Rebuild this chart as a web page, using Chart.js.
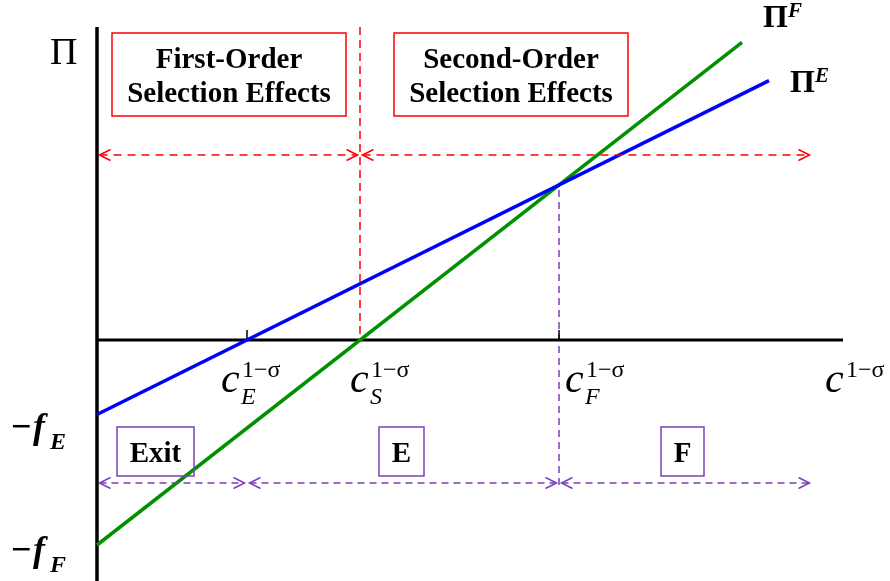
<!DOCTYPE html>
<html>
<head>
<meta charset="utf-8">
<script src="https://cdn.jsdelivr.net/npm/chart.js@4.4.0/dist/chart.umd.min.js"></script>
<style>
  html, body { margin: 0; padding: 0; background: #fff; }
  #wrap { width: 890px; height: 581px; }
</style>
</head>
<body>
<div id="wrap"><canvas id="chart"></canvas></div>
<script>
// cutoffs on the c^(1-sigma) axis
const cutoffNames = ["E", "S", "F"];
const cutoffValues = [1.5, 2.63, 4.62];

// profit lines, x = c^(1-sigma), y = profit
const profitE = [{ x: 0, y: -0.745 }, { x: 6.72, y: 2.594 }];
const profitF = [{ x: 0, y: -2.05 }, { x: 6.45, y: 2.976 }];

// axis extents
const axisXRange = [0, 7.46];
const axisYRange = [-2.41, 3.13];

// arrow rows: region spans for each row
const selectionSpans = [[0, 2.63], [2.63, 7.15]];
const selectionY = 1.85;
const statusSpans = [[0, 1.5], [1.5, 4.62], [4.62, 7.15]];
const statusY = -1.43;
const statusLabels = ["Exit", "E", "F"];

const BLUE = "#0000ff";
const GREEN = "rgb(0,145,0)";
const RED = "#ff0000";
const PURPLE = "#7b3fb5";
const SERIF = '"Liberation Serif", "Times New Roman", serif';

const cE = cutoffValues[0], cS = cutoffValues[1], cF = cutoffValues[2];
const crossY = 1.55;

function seg(data, color, width, dash, order) {
    return {
        data,
        showLine: true,
        borderColor: color,
        borderWidth: width,
        borderDash: dash || [],
        pointRadius: 0,
        fill: false,
        clip: false,
        order
    };
}

function arrow(ctx, x1, x2, y, color, dash) {
    ctx.save();
    ctx.strokeStyle = color;
    ctx.lineWidth = 1.5;
    ctx.setLineDash(dash);
    ctx.beginPath();
    ctx.moveTo(x1, y);
    ctx.lineTo(x2, y);
    ctx.stroke();
    ctx.setLineDash([]);
    ctx.beginPath();
    ctx.moveTo(x1 + 11, y - 5.5);
    ctx.lineTo(x1, y);
    ctx.lineTo(x1 + 11, y + 5.5);
    ctx.moveTo(x2 - 11, y - 5.5);
    ctx.lineTo(x2, y);
    ctx.lineTo(x2 - 11, y + 5.5);
    ctx.stroke();
    ctx.restore();
}

function text(ctx, str, x, y, font, align) {
    ctx.font = font;
    ctx.textAlign = align || "left";
    ctx.fillText(str, x, y);
}

const annotations = {
    id: "annotations",
    afterDatasetsDraw(chart) {
        const ctx = chart.ctx;
        const X = v => chart.scales.x.getPixelForValue(v);
        const Y = v => chart.scales.y.getPixelForValue(v);
        ctx.save();
        ctx.textBaseline = "alphabetic";

        // arrows
        const ry = Y(selectionY);
        selectionSpans.forEach(s => arrow(ctx, X(s[0]) + 2.5, X(s[1]) - 2.5, ry, RED, [8, 6]));
        const py = Y(statusY);
        statusSpans.forEach(s => arrow(ctx, X(s[0]) + 2.5, X(s[1]) - 2.5, py, PURPLE, [7, 5]));

        // red boxes
        ctx.strokeStyle = RED;
        ctx.lineWidth = 1.5;
        ctx.strokeRect(112, 33, 234, 83);
        ctx.strokeRect(394, 33, 234, 83);
        ctx.fillStyle = "#000";
        const bf = "bold 29px " + SERIF;
        text(ctx, "First-Order", 229, 68, bf, "center");
        text(ctx, "Selection Effects", 229, 102, bf, "center");
        text(ctx, "Second-Order", 511, 68, bf, "center");
        text(ctx, "Selection Effects", 511, 102, bf, "center");

        // purple boxes
        ctx.strokeStyle = PURPLE;
        const boxes = [[117, 77], [379, 45], [661, 43]];
        boxes.forEach((b, i) => {
            ctx.strokeRect(b[0], 427, b[1], 49);
            text(ctx, statusLabels[i], b[0] + b[1] / 2, 462, "bold 29px " + SERIF, "center");
        });

        // axis labels
        ctx.fillStyle = "#000";
        text(ctx, "\u03A0", 50, 64, "38px " + SERIF);
        text(ctx, "\u03A0", 763, 27, "bold 32px " + SERIF);
        text(ctx, "F", 788, 17, "bold italic 21px " + SERIF);
        text(ctx, "\u03A0", 790, 92, "bold 32px " + SERIF);
        text(ctx, "E", 815, 82, "bold italic 21px " + SERIF);

        // fixed cost labels
        const fc = [["E", 438], ["F", 561]];
        fc.forEach(f => {
            text(ctx, "\u2212", 11, f[1], "bold 36px " + SERIF);
            text(ctx, "f", 33, f[1], "bold italic 36px " + SERIF);
            text(ctx, f[0], 50, f[1] + 11, "bold italic 24px " + SERIF);
        });

        // c labels
        const cl = [[X(cE) - 26, "E"], [X(cS) - 10, "S"], [X(cF) + 6, "F"], [825, ""]];
        cl.forEach(c => {
            text(ctx, "c", c[0], 392, "italic 42px " + SERIF);
            text(ctx, "1\u2212\u03C3", c[0] + 21, 377, "24px " + SERIF);
            if (c[1]) text(ctx, c[1], c[0] + 20, 404, "italic 24px " + SERIF);
        });
        ctx.restore();
    }
};

new Chart(document.getElementById("chart"), {
    type: "scatter",
    data: {
        datasets: [
            seg(profitE, BLUE, 3.5, null, 0),
            seg(profitF, GREEN, 3.5, null, 1),
            seg([{ x: 0, y: axisYRange[0] }, { x: 0, y: axisYRange[1] }], "#000", 3.5, null, 2),
            seg([{ x: axisXRange[0], y: 0 }, { x: axisXRange[1], y: 0 }], "#000", 3, null, 2),
            seg([{ x: cE, y: 0 }, { x: cE, y: 0.1 }], "#000", 1.5, null, 2),
            seg([{ x: cF, y: 0 }, { x: cF, y: 0.1 }], "#000", 1.5, null, 2),
            seg([{ x: cS, y: axisYRange[1] }, { x: cS, y: 0 }], RED, 1.5, [8, 5], 3),
            seg([{ x: cF, y: crossY - 0.05 }, { x: cF, y: statusY - 0.04 }], PURPLE, 1.5, [7, 5], 3)
        ]
    },
    options: {
        responsive: true,
        maintainAspectRatio: false,
        animation: false,
        layout: { padding: { left: 97, right: 43, top: 27, bottom: 0 } },
        scales: {
            x: { type: "linear", min: 0, max: 7.5, display: false },
            y: { type: "linear", min: axisYRange[0], max: axisYRange[1], display: false }
        },
        plugins: {
            legend: { display: false },
            tooltip: { enabled: false }
        }
    },
    plugins: [annotations]
});
</script>
</body>
</html>
